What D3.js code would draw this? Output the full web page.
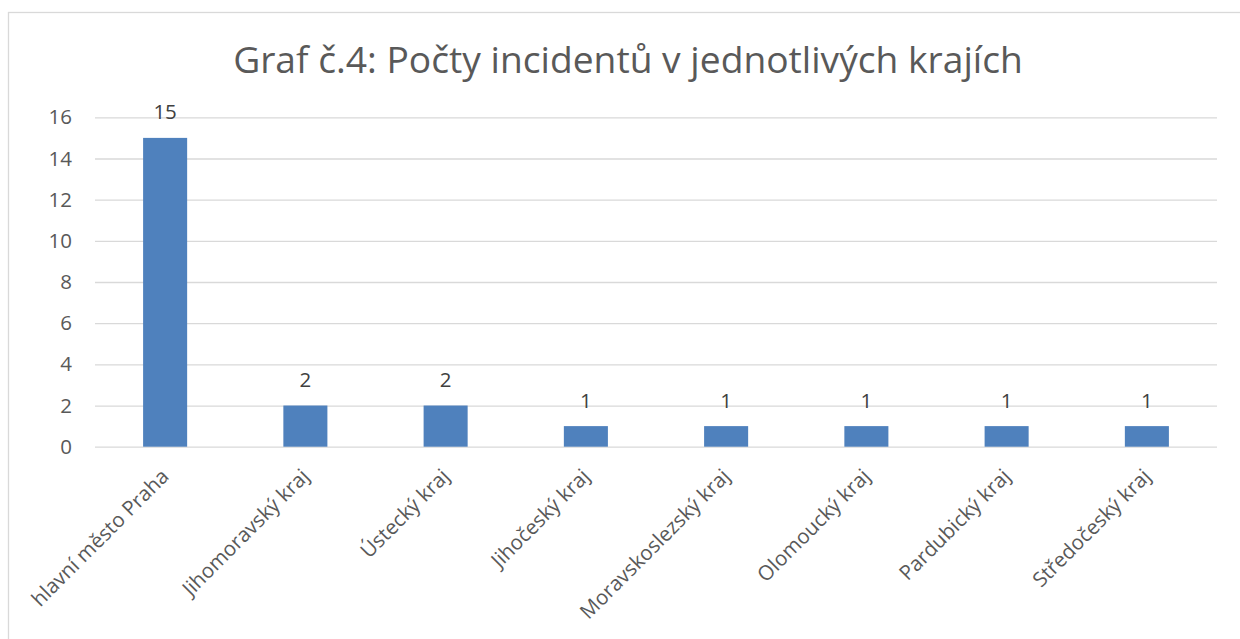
<!DOCTYPE html>
<html>
<head>
<meta charset="utf-8">
<script src="https://cdn.jsdelivr.net/npm/d3@7"></script>
<style>
  body { margin: 0; background: #fff; }
  text { font-family: "Open Sans", "Noto Sans", sans-serif; }
</style>
</head>
<body>
<div id="chart"></div>
<script>
var categories = ['hlavní město Praha', 'Jihomoravský kraj', 'Ústecký kraj', 'Jihočeský kraj',
    'Moravskoslezský kraj', 'Olomoucký kraj', 'Pardubický kraj', 'Středočeský kraj']
var values = [15, 2, 2, 1, 1, 1, 1, 1]
var yTicks = [0, 2, 4, 6, 8, 10, 12, 14, 16]
var title = 'Graf č.4: Počty incidentů v jednotlivých krajích'

var width = 1240,
    height = 639

var plot = { left: 95, right: 1217, top: 117.3, bottom: 446.7 }

var svg = d3.select('#chart').append('svg')
    .attr('width', width)
    .attr('height', height)

// chart border (right and bottom edges fall outside the picture)
svg.append('rect')
    .attr('x', 8.5)
    .attr('y', 12.5)
    .attr('width', 1250)
    .attr('height', 650)
    .style('fill', '#fff')
    .style('stroke', '#d9d9d9')
    .style('stroke-width', 1.3)

svg.append('text')
    .attr('x', 628)
    .attr('y', 73)
    .attr('text-anchor', 'middle')
    .style('font-size', '37.2px')
    .style('fill', '#595959')
    .text(title)

var y = d3.scaleLinear()
    .domain([0, 16])
    .range([plot.bottom, plot.top])

var x = d3.scaleBand()
    .domain(categories)
    .range([plot.left, plot.right])
    .paddingInner(0.686)
    .paddingOuter(0.343)

// gridlines + y labels
var yAxis = d3.axisLeft(y)
    .tickValues(yTicks)
    .tickSize(-(plot.right - plot.left))
    .tickPadding(23)
var gy = svg.append('g')
    .attr('transform', `translate(${plot.left}, 0)`)
    .call(yAxis)
gy.select('.domain').remove()
gy.selectAll('.tick line')
    .style('stroke', '#d9d9d9')
    .style('stroke-width', 1.3)
gy.selectAll('.tick text')
    .style('font-size', '20.5px')
    .style('fill', '#595959')
    .attr('font-family', null)

var bars = svg.append('g')
    .selectAll('rect')
    .data(values)
    .enter().append('rect')
    .attr('x', (d, i) => x(categories[i]))
    .attr('y', d => y(d))
    .attr('width', x.bandwidth())
    .attr('height', d => y(0) - y(d))
    .style('fill', '#4f81bd')

// value labels
svg.append('g')
    .selectAll('text')
    .data(values)
    .enter().append('text')
    .attr('x', (d, i) => x(categories[i]) + x.bandwidth() / 2)
    .attr('y', d => y(d) - 18.5)
    .attr('text-anchor', 'middle')
    .style('font-size', '20.5px')
    .style('fill', '#404040')
    .text(d => d)

// rotated category labels
var xAxis = d3.axisBottom(x).tickSize(0).tickPadding(0)
var gx = svg.append('g')
    .attr('transform', `translate(0, ${plot.bottom})`)
    .call(xAxis)
gx.select('.domain').remove()
gx.selectAll('.tick text')
    .attr('font-family', null)
    .attr('text-anchor', 'end')
    .attr('dy', null)
    .attr('y', null)
    .attr('transform', 'translate(5, 31) rotate(-45)')
    .style('font-size', '20.5px')
    .style('fill', '#595959')
</script>
</body>
</html>
